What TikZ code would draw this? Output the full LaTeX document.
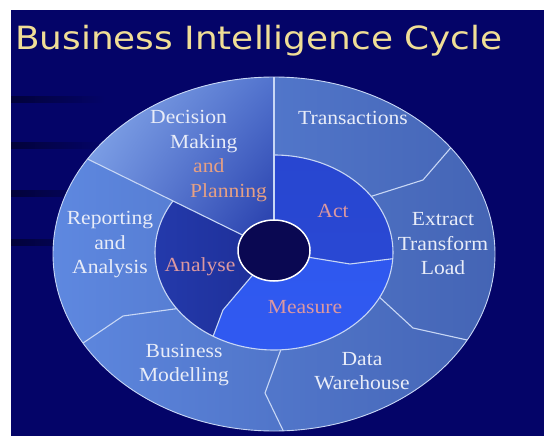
\documentclass[tikz,border=0pt]{standalone}
\usepackage{fontspec}
\setmainfont{Liberation Serif}[FakeStretch=1.08]
\newfontfamily\titlefont{DejaVu Sans}[FakeStretch=1.12]
\usetikzlibrary{shapes.geometric,calc,shadings}

\definecolor{bgnavy}{RGB}{4,4,104}
\definecolor{streak}{RGB}{2,2,58}
\definecolor{titlegold}{RGB}{240,222,150}
\definecolor{ringlight}{RGB}{94,136,224}
\definecolor{ringdark}{RGB}{68,100,180}
\definecolor{wedgelight}{RGB}{165,198,248}
\definecolor{wedgetop}{RGB}{92,128,214}
\definecolor{wedgeleft}{RGB}{125,164,236}
\definecolor{wedgedark}{RGB}{34,56,168}
\definecolor{actblue}{RGB}{40,70,208}
\definecolor{measureblue}{RGB}{48,90,242}
\definecolor{analyselight}{RGB}{36,58,172}
\definecolor{analysedark}{RGB}{22,34,128}
\definecolor{holenavy}{RGB}{10,8,82}
\definecolor{rimline}{RGB}{200,215,245}
\definecolor{labelwhite}{RGB}{232,236,248}
\definecolor{labelsalmon}{RGB}{230,160,132}
\definecolor{phasepink}{RGB}{220,152,160}

\begin{document}
\begin{tikzpicture}[
  x=1pt, y=-1pt,
  disc/.style   ={ellipse,inner sep=0pt,outer sep=0pt},
  divider/.style={draw=rimline,line width=1.1pt},
  lbl/.style    ={font=\fontsize{20}{24.5}\selectfont,text=labelwhite,
                  align=center,inner sep=0pt},
  phase/.style  ={lbl,text=phasepink},
]
\useasboundingbox (0,0) rectangle (544,436);

%% =============================================
%% Slide background
%% =============================================
\fill[white] (0,0) rectangle (544,436);
\fill[bgnavy] (11,10) rectangle (544,436);
\foreach \y in {100,145,193,242}
  \shade[left color=streak,right color=bgnavy] (11,\y-3) rectangle (105,\y+3);

\node[anchor=base west,inner sep=0pt,text=titlegold,
      font=\titlefont\fontsize{32}{32}\selectfont] (title) at (15,50)
      {Business Intelligence Cycle};

%% =============================================
%% Outer ring and reference shapes
%% =============================================
\node[disc,minimum width=442pt,minimum height=354pt,
      left color=ringlight,right color=ringdark] (outer) at (274,254) {};
\path node[disc,minimum width=238pt,minimum height=195pt] (inner) at (274,252.5) {};
\path node[disc,minimum width=72pt,minimum height=61pt] (hole) at (274,250.5) {};

%% =============================================
%% Inner ring: Act / Measure / Analyse
%% =============================================
\begin{scope}
  \clip (274,252.5) ellipse [x radius=119pt, y radius=97.5pt];
  \shade[left color=analyselight,right color=analysedark] (150,150) rectangle (400,360);
  \shade[top color=actblue,bottom color=actblue!90!measureblue]
    (hole.center) -- (274,140) -- (420,140) -- (420,258) -- (inner.-3)
    -- (350,264) -- (hole.-11) -- cycle;
  \shade[top color=measureblue!90!actblue,bottom color=measureblue]
    (hole.center) -- (hole.-11) -- (350,264) -- (inner.-3) -- (420,258)
    -- (420,370) -- (200,370) -- (inner.234) -- (223,310) -- (hole.229) -- cycle;
\end{scope}
\draw[divider] (274,252.5) ellipse [x radius=119pt, y radius=97.5pt];

%% =============================================
%% Decision wedge
%% =============================================
\begin{scope}
  \clip (274,254) ellipse [x radius=221pt, y radius=177pt];
  \shade[upper left=wedgelight,upper right=wedgetop,
         lower left=wedgeleft,lower right=wedgedark]
    (hole.center) -- ($(hole.center)!1.2!(outer.90)$) -- (30,40)
    -- ($(hole.center)!1.3!(outer.153.8)$) -- cycle;
\end{scope}

%% =============================================
%% Dividers
%% =============================================
\draw[divider] (hole.center) -- (outer.90);
\draw[divider] (hole.center) -- (outer.153.8);
\draw[divider] (inner.30)    -- (423,180) -- (outer.31);
\draw[divider] (inner.-23)   -- (413,328) -- (outer.-24);
\draw[divider] (inner.-86.5) -- (265,393) -- (outer.-87);
\draw[divider] (inner.210)   -- (123,316) -- (outer.205);
\draw[divider] (hole.-11)    -- (350,264) -- (inner.-3);
\draw[divider] (hole.229)    -- (223,310) -- (inner.234);

% centre hole and rim
\fill[holenavy] (274,250.5) ellipse [x radius=36pt, y radius=30.5pt];
\draw[white,line width=1.5pt] (274,250.5) ellipse [x radius=36pt, y radius=30.5pt];
\draw[rimline,line width=0.9pt] (274,254) ellipse [x radius=221pt, y radius=177pt];

%% =============================================
%% Labels
%% =============================================
\node[lbl] (transactions) at (353,118) {Transactions};
\node[lbl] (etl)          at (443,244) {Extract\\Transform\\Load};
\node[lbl] (reporting)    at (110,245) {Reporting\\and\\Analysis};
\node[lbl] (modelling)    at (184,365) {Business\\Modelling};
\node[lbl] (warehouse)    at (362,371) {Data\\Warehouse};
\node[lbl,anchor=west,align=left] (decision) at (150,156)
  {Decision\\\hspace*{20pt}Making\\\hspace*{43pt}\textcolor{labelsalmon}{and}\\
   \hspace*{40pt}\textcolor{labelsalmon}{Planning}};

\node[phase] (act)     at (333,211) {Act};
\node[phase] (analyse) at (200,267) {Analyse};
\node[phase] (measure) at (305,307) {Measure};

\end{tikzpicture}
\end{document}
